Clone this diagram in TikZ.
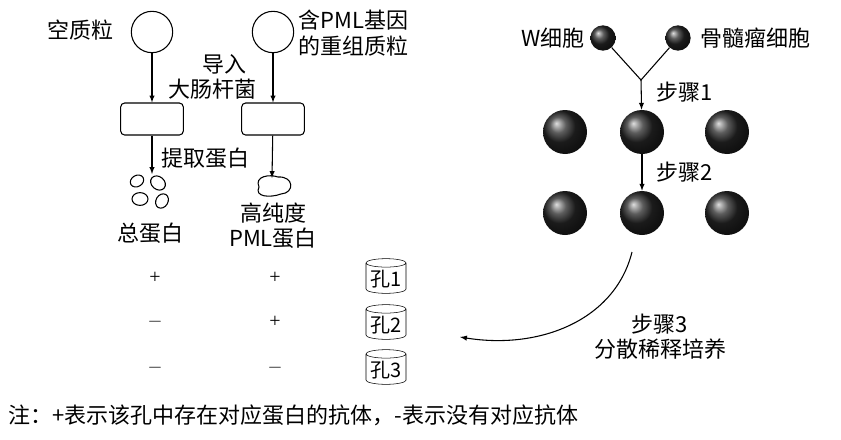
\documentclass[tikz,border=0pt]{standalone}
\usepackage{fontspec}
\setmainfont{Liberation Serif}
\newfontfamily\cjk{Noto Sans CJK SC}
\usetikzlibrary{shapes.geometric}
\tikzset{
  txt/.style={font=\cjk\fontsize{16.5}{19}\selectfont, inner sep=0pt, align=center},
  arr/.style={->, >=latex, thick},
  plasmid/.style={draw, thick, circle, minimum size=31, inner sep=0pt},
  cell/.style={circle, shading=ball, ball color=black!85, minimum size=#1, inner sep=0pt},
  well/.style={draw, cylinder, shape border rotate=90, aspect=0.25, minimum width=30, minimum height=26, inner sep=1pt, font=\cjk\fontsize{15}{17}\selectfont}
}
\begin{document}
\begin{tikzpicture}[x=0.75pt, y=-0.75pt]
\useasboundingbox (0,0) rectangle (841,439);
% left part
\node[txt] (empty) at (80,30) {空质粒};
\node[plasmid] (p1) at (152,32) {};
\node[plasmid] (p2) at (273,32) {};
\node[txt, align=left, anchor=west] (recomb) at (298,33) {含PML基因\\的重组质粒};
\node[draw, thick, rounded corners=3, minimum width=47, minimum height=24] (b1) at (152,119) {};
\node[draw, thick, rounded corners=3, minimum width=47, minimum height=24] (b2) at (273,119) {};
\draw[arr] (p1) -- (b1);
\draw[arr] (p2) -- (b2);
\node[txt] (intro) at (212,77) {\hspace*{18pt}导入\\大肠杆菌};
\coordinate (t1) at (152,174);
\coordinate (t2) at (272,178);
\draw[arr] (b1) -- (t1);
\draw[arr] (b2) -- (t2);
\node[txt] (extract) at (205,158) {提取蛋白};
% protein blobs
\foreach \bx/\by/\br/\rot in {137/181/7/30, 158/183/8/-40, 140/199/8/0, 162/201/7.5/60}
  \draw[thick, rotate around={\rot:(\bx,\by)}] (\bx,\by) ellipse ({\br*1} and {\br*0.8});
\draw[thick] (259,187) .. controls (254,176) and (270,174) .. (278,177)
  .. controls (294,176) and (295,193) .. (281,194)
  .. controls (270,198) and (254,197) .. (259,187);
\node[txt] (total) at (150,233) {总蛋白};
\node[txt] (pure) at (273,226) {高纯度\\PML蛋白};
% antibody table
\foreach \y/\a/\b in {278/+/+, 322/$-$/+, 368/$-$/$-$} {
  \node[font=\fontsize{15}{17}\selectfont] at (155,\y) {\a};
  \node[font=\fontsize{15}{17}\selectfont] at (275,\y) {\b};
}
\node[well] (w1) at (386,279) {孔1};
\node[well] (w2) at (386,325) {孔2};
\node[well] (w3) at (386,370) {孔3};
% right part
\node[txt] (wcell) at (553,38) {W细胞};
\node[cell=19] (c1) at (603,38) {};
\node[cell=19] (c2) at (678,38) {};
\node[txt] (myel) at (755,38) {骨髓瘤细胞};
\coordinate (m) at (641,80);
\draw[thick] (c1) -- (m) -- (c2);
\node[cell=33] (r1) at (565,132) {};
\node[cell=33] (r2) at (642,132) {};
\node[cell=33] (r3) at (727,132) {};
\draw[arr] (m) -- (r2);
\node[txt] (s1) at (685,92) {步骤1};
\node[cell=33] (d1) at (565,213) {};
\node[cell=33] (d2) at (642,213) {};
\node[cell=33] (d3) at (727,213) {};
\draw[arr] (r2) -- (d2);
\node[txt] (s2) at (685,172) {步骤2};
\coordinate (cs) at (632,252);
\coordinate (ce) at (460,337);
\draw[arr] (cs) .. controls (615,320) and (540,350) .. (ce);
\node[txt] (s3) at (660,337) {步骤3\\分散稀释培养};
% note
\node[txt, anchor=west] (note) at (8,415) {注：+表示该孔中存在对应蛋白的抗体，-表示没有对应抗体};
\end{tikzpicture}
\end{document}
